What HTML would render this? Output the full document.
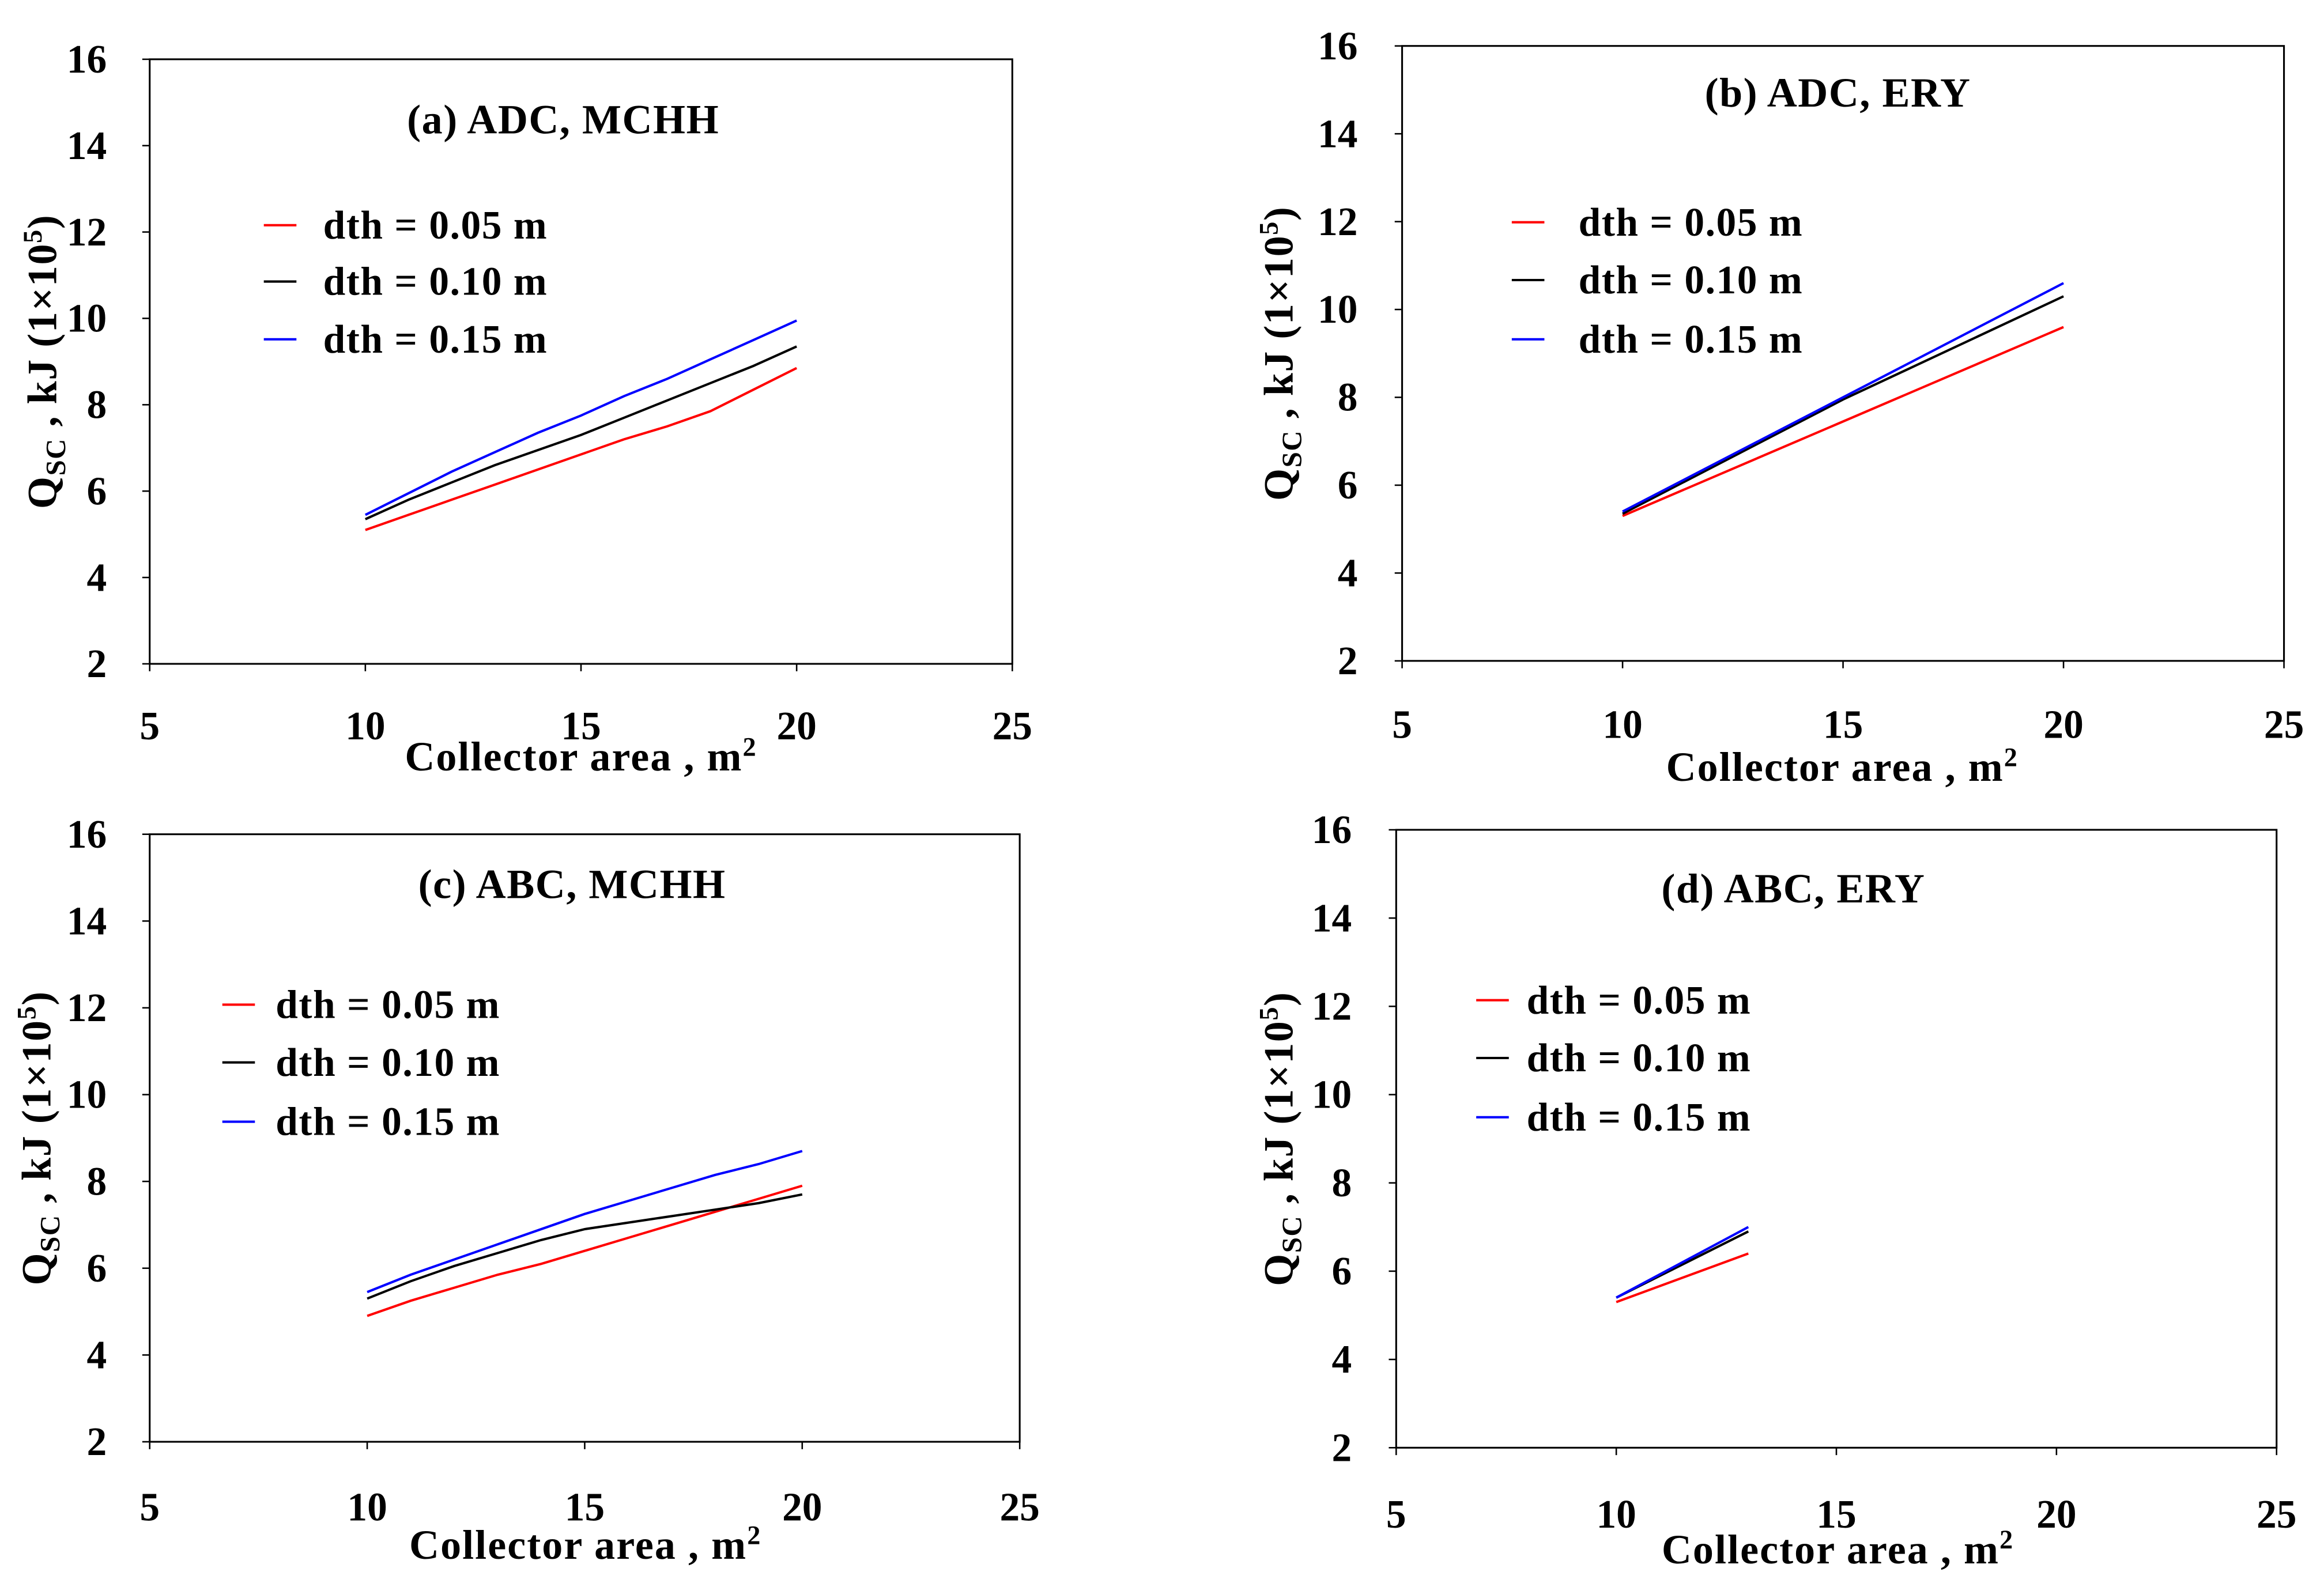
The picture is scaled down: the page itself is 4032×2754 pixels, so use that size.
<!DOCTYPE html>
<html><head><meta charset="utf-8"><style>
html,body{margin:0;padding:0;background:#fff}
svg{display:block}
text{font-family:"Liberation Serif",serif;font-weight:bold;fill:#000}
</style></head><body>
<svg id="root" width="4032" height="2754" viewBox="0 0 1568 1071" xmlns="http://www.w3.org/2000/svg"></svg>
<script>
// data arrays
const xTicks = [5, 10, 15, 20, 25];
const yTicks = [2, 4, 6, 8, 10, 12, 14, 16];
const seriesNames = ["dth = 0.05 m", "dth = 0.10 m", "dth = 0.15 m"];
const seriesColors = ["#ff0000", "#000000", "#0000ff"];
const panelTitles = ["(a) ADC, MCHH", "(b) ADC, ERY", "(c) ABC, MCHH", "(d)  ABC, ERY"];
const aX = [10, 11, 12, 13, 14, 15, 16, 17, 18, 19, 20];
const aRed = [5.1, 5.45, 5.8, 6.15, 6.5, 6.85, 7.2, 7.5, 7.85, 8.35, 8.85];
const aBlack = [5.35, 5.8, 6.2, 6.6, 6.95, 7.3, 7.7, 8.1, 8.5, 8.9, 9.35];
const aBlue = [5.45, 5.95, 6.45, 6.9, 7.35, 7.75, 8.2, 8.6, 9.05, 9.5, 9.95];
const bX = [10, 15, 20];
const bRed = [5.3, 7.45, 9.6];
const bBlack = [5.35, 7.95, 10.3];
const bBlue = [5.4, 8.0, 10.6];
const cX = [10, 11, 12, 13, 14, 15, 16, 17, 18, 19, 20];
const cRed = [4.9, 5.25, 5.55, 5.85, 6.1, 6.4, 6.7, 7.0, 7.3, 7.6, 7.9];
const cBlack = [5.3, 5.7, 6.05, 6.35, 6.65, 6.9, 7.05, 7.2, 7.35, 7.5, 7.7];
const cBlue = [5.45, 5.85, 6.2, 6.55, 6.9, 7.25, 7.55, 7.85, 8.15, 8.4, 8.7];
const dX = [10, 13];
const dRed = [5.3, 6.4];
const dBlack = [5.4, 6.9];
const dBlue = [5.4, 7.0];

const panels = [
 {id:"a", L:101, R:683, T:40, B:448, xs:aX, ys:[aRed,aBlack,aBlue], title:[380,90], leg:[178,218,[152,190,229]], tickY:499, xt:[392,520], yt:[72,38]},
 {id:"b", L:946, R:1541, T:31, B:446, xs:bX, ys:[bRed,bBlack,bBlue], title:[1240,72], leg:[1020,1065,[150,189,229]], tickY:498, xt:[1243,527], yt:[916,872]},
 {id:"c", L:101, R:688, T:563, B:973, xs:cX, ys:[cRed,cBlack,cBlue], title:[386,606], leg:[150,186,[678,717,757]], tickY:1026, xt:[395,1052], yt:[72,34]},
 {id:"d", L:942, R:1536, T:560, B:977, xs:dX, ys:[dRed,dBlack,dBlue], title:[1210,609], leg:[996,1030,[675,714,754]], tickY:1031, xt:[1240,1055], yt:[912,872]}
];
const NS="http://www.w3.org/2000/svg";
const root=document.getElementById('root');
function mk(tag,attrs,parent){const e=document.createElementNS(NS,tag);for(const k in attrs)e.setAttribute(k,attrs[k]);parent.appendChild(e);return e;}
panels.forEach((p,pi)=>{
 const g=mk('g',{},root);
 
 
 const sx=v=>p.L+(v-5)/(25-5)*(p.R-p.L);
 const sy=v=>p.B-(v-2)/(16-2)*(p.B-p.T);
 const fr=mk('rect',{x:p.L,y:p.T,width:p.R-p.L,height:p.B-p.T,fill:'none',stroke:'#000','stroke-width':1.2},g);
 
 
 xTicks.forEach(t=>{
  mk('line',{x1:sx(t),x2:sx(t),y1:p.B,y2:p.B+5,stroke:'#000'},g);
  const tx=mk('text',{x:sx(t),y:p.tickY,'text-anchor':'middle','font-size':27},g);
  tx.textContent=t;
  
  
 });
 yTicks.forEach(t=>{
  mk('line',{x1:p.L-5,x2:p.L,y1:sy(t),y2:sy(t),stroke:'#000'},g);
  const tx=mk('text',{x:p.yt[0],y:sy(t)+9,'text-anchor':'end','font-size':27},g);
  tx.textContent=t;
  
  
 });
 const xt=mk('text',{x:p.xt[0],y:p.xt[1],'text-anchor':'middle','font-size':28,'letter-spacing':0.8},g);
 xt.innerHTML='Collector area , m<tspan font-size="18" dy="-10">2</tspan>';
 
 
 const cy=(p.T+p.B)/2;
 const yt=mk('text',{x:p.yt[1],y:cy,'text-anchor':'middle','font-size':28,'letter-spacing':0.6,transform:`rotate(-90 ${p.yt[1]} ${cy})`},g);
 yt.innerHTML='Q<tspan font-size="19" dy="6">SC</tspan><tspan dy="-6"> , kJ (1×10</tspan><tspan font-size="18" dy="-10">5</tspan><tspan dy="10">)</tspan>';
 
 
 const ti=mk('text',{x:p.title[0],y:p.title[1],'text-anchor':'middle','font-size':28,'letter-spacing':0.6},g);
 ti.textContent=panelTitles[pi];
 
 
 p.ys.forEach((ys,si)=>{
  const pts=p.xs.map((x,i)=>sx(x)+','+sy(ys[i])).join(' ');
  const pl=mk('polyline',{points:pts,fill:'none',stroke:seriesColors[si],'stroke-width':1.6},g);
  
  
  const ly=p.leg[2][si];
  const ll=mk('line',{x1:p.leg[0],x2:p.leg[0]+22,y1:ly,y2:ly,stroke:seriesColors[si],'stroke-width':1.6},g);
  
  
  const lt=mk('text',{x:p.leg[1],y:ly+9,'font-size':27,'letter-spacing':0.6},g);
  lt.textContent=seriesNames[si];
  
  
 });
});
</script>
</body></html>
